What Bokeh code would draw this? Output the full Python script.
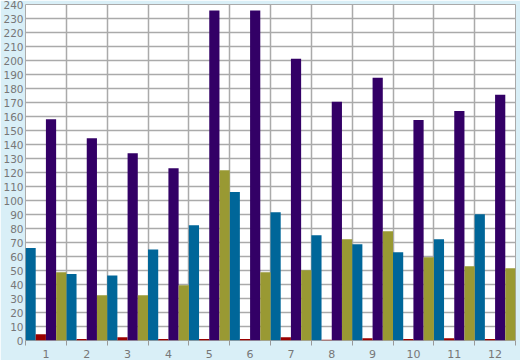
from bokeh.plotting import figure
from bokeh.models import ColumnDataSource, FixedTicker, Range1d
from bokeh.transform import dodge
from bokeh.embed import file_html
from bokeh.resources import INLINE

months = [1, 2, 3, 4, 5, 6, 7, 8, 9, 10, 11, 12]
series_blue = [66, 47.5, 46.5, 65, 82.3, 106, 91.6, 75.2, 68.8, 63, 72.4, 90.2]
series_red = [4.5, 1, 2.4, 1, 1, 1, 2.4, 0.5, 1.6, 1, 1.6, 1]
series_purple = [158, 144.5, 133.8, 123, 235.7, 235.7, 201.3, 170.5, 187.7, 157.5, 164, 175.5]
series_olive = [48.8, 32.4, 32.4, 39.5, 121.6, 48.8, 50.2, 72.4, 78, 59.5, 53, 51.6]
y_ticks = list(range(0, 250, 10))

src = ColumnDataSource(dict(x=months, blue=series_blue, red=series_red,
                            purple=series_purple, olive=series_olive))

p = figure(width=520, height=360, output_backend="svg", toolbar_location=None,
           x_range=Range1d(0.5, 12.5), y_range=Range1d(0, 240),
           min_border_left=0, min_border_right=5, min_border_top=4, min_border_bottom=20)

p.background_fill_color = "white"
p.border_fill_color = "#d9eff7"
p.outline_line_color = "#aaaaaa"

w = 0.25
for name, off, col in [("blue", -0.375, "#006699"), ("red", -0.125, "#990000"),
                       ("purple", 0.125, "#330066"), ("olive", 0.375, "#999933")]:
    p.vbar(x=dodge("x", off), top=name, width=w, source=src,
           fill_color=col, line_color=None)

p.xaxis.ticker = FixedTicker(ticks=months, minor_ticks=[m - 0.5 for m in months] + [12.5])
p.xaxis.major_tick_line_color = None
p.xaxis.major_tick_out = 0
p.xaxis.major_tick_in = 0
p.xaxis.minor_tick_line_color = "#999999"
p.xaxis.minor_tick_out = 5
p.xaxis.minor_tick_in = 0
p.xaxis.axis_line_color = None
p.xaxis.major_label_text_color = "#777777"
p.xaxis.major_label_text_font = "DejaVu Sans"
p.xaxis.major_label_text_font_size = "11px"
p.xaxis.major_label_standoff = 4
p.xaxis.axis_label_standoff = 0

p.yaxis.ticker = FixedTicker(ticks=y_ticks)
p.yaxis.major_tick_line_color = None
p.yaxis.major_tick_out = 0
p.yaxis.major_tick_in = 0
p.yaxis.minor_tick_line_color = None
p.yaxis.axis_line_color = None
p.yaxis.major_label_text_color = "#777777"
p.yaxis.major_label_text_font = "DejaVu Sans"
p.yaxis.major_label_text_font_size = "10.5px"
p.yaxis.major_label_standoff = 2
p.yaxis.axis_label_standoff = 0

p.xgrid.ticker = FixedTicker(ticks=[m - 0.5 for m in months] + [12.5])
p.xgrid.grid_line_color = "#aaaaaa"
p.xgrid.grid_line_width = 1.5
p.ygrid.grid_line_color = "#aaaaaa"
p.ygrid.grid_line_width = 1.5

open("out.html", "w").write(file_html(p, INLINE))
